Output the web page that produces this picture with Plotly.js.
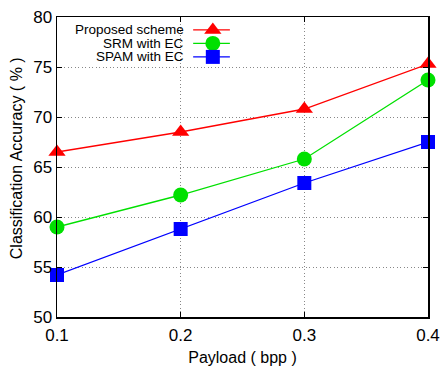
<!DOCTYPE html>
<html><head><meta charset="utf-8">
<script src="https://cdn.plot.ly/plotly-3.0.1.min.js"></script>
<style>html,body{margin:0;padding:0;background:#fff}#chart{width:445px;height:372px}</style>
</head><body><div id="chart"></div>
<script>
const payload = [0.1, 0.2, 0.3, 0.4];
const seriesNames = ["Proposed scheme", "SRM with EC", "SPAM with EC"];
const proposed = [66.5, 68.5, 70.8, 75.3];
const srm = [59.0, 62.2, 65.8, 73.7];
const spam = [54.2, 58.8, 63.4, 67.5];
const xTicks = [0.1, 0.2, 0.3, 0.4];
const yTicks = [50, 55, 60, 65, 70, 75, 80];

const colors = ["#ff0000", "#00e000", "#0000ff"];
const symbols = ["triangle-up", "circle", "square"];
const sizes = [15, 15, 14];
const values = [proposed, srm, spam];

const font = "Liberation Sans, Arial, sans-serif";
const traces = [];
values.forEach((v, i) => {
  traces.push({x: payload, y: v, mode: "lines+markers", name: seriesNames[i],
    line: {color: colors[i], width: 1.3},
    marker: {color: colors[i], symbol: symbols[i], size: sizes[i]},
    showlegend: false, cliponaxis: false});
});
// custom legend (gnuplot style: text then sample) on an overlay axis
const legY = [0.957, 0.912, 0.867];
const annotations = [];
values.forEach((v, i) => {
  traces.push({x: [0.367, 0.466], y: [legY[i], legY[i]], xaxis: "x2", yaxis: "y2",
    mode: "lines", line: {color: colors[i], width: 1.3}, showlegend: false, hoverinfo: "skip"});
  traces.push({x: [0.42], y: [legY[i]], xaxis: "x2", yaxis: "y2",
    mode: "markers", marker: {color: colors[i], symbol: symbols[i], size: sizes[i]}, showlegend: false, hoverinfo: "skip"});
  annotations.push({xref: "paper", yref: "paper", x: 0.345, y: legY[i], xanchor: "right", yanchor: "middle",
    borderpad: 0,
    text: seriesNames[i], showarrow: false, font: {family: font, size: 13.5, color: "#000"}});
});
annotations.push({xref: "paper", yref: "paper", x: -0.11, y: 0.53, xanchor: "center", yanchor: "middle",
  textangle: -90, showarrow: false, text: "Classification Accuracy ( % )",
  font: {family: font, size: 16, color: "#000"}});

const layout = {
  width: 445, height: 372,
  margin: {l: 57, r: 17, t: 17, b: 55},
  paper_bgcolor: "#fff", plot_bgcolor: "rgba(0,0,0,0)",
  showlegend: false,
  font: {family: font, color: "#000"},
  xaxis: {range: [0.1, 0.4], tickvals: xTicks, ticktext: xTicks.map(t => t.toFixed(1)),
    showline: true, linecolor: "#000", linewidth: 1.5, mirror: "ticks",
    ticks: "inside", ticklen: 5, tickcolor: "#000",
    showgrid: true, gridcolor: "#888888", griddash: "1px,2.5px", gridwidth: 1, zeroline: false,
    tickfont: {size: 17, family: font}, ticklabelstandoff: 2,
    title: {text: "Payload ( bpp )", font: {size: 16, family: font}, standoff: 8}},
  yaxis: {range: [50, 80], tickvals: yTicks,
    showline: true, linecolor: "#000", linewidth: 1.5, mirror: "ticks",
    ticks: "inside", ticklen: 5, tickcolor: "#000",
    showgrid: true, gridcolor: "#888888", griddash: "1px,2.5px", gridwidth: 1, zeroline: false,
    tickfont: {size: 17, family: font}},
  xaxis2: {overlaying: "x", range: [0, 1], visible: false, fixedrange: true},
  yaxis2: {overlaying: "y", range: [0, 1], visible: false, fixedrange: true},
  annotations: annotations
};
Plotly.newPlot("chart", traces, layout, {displayModeBar: false, staticPlot: true});
</script></body></html>
